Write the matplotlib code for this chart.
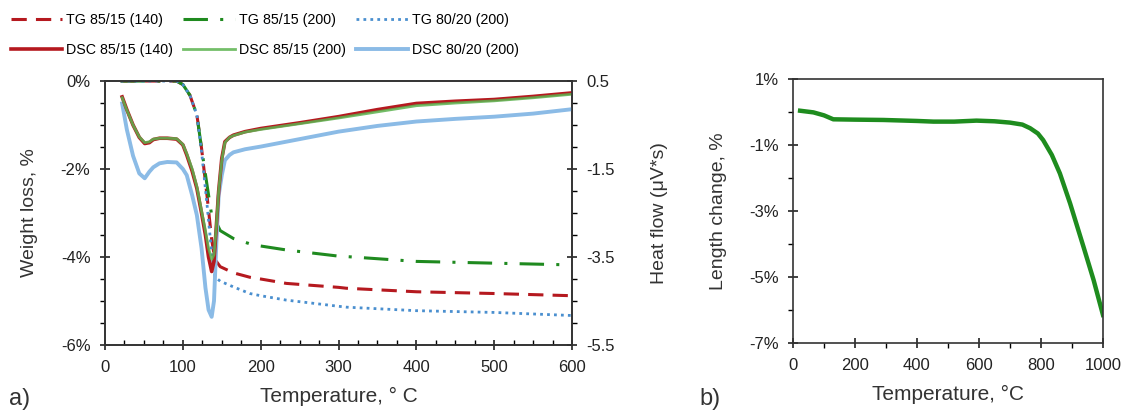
import matplotlib
matplotlib.use("Agg")
from matplotlib import pyplot as plt
from matplotlib.ticker import MultipleLocator, FuncFormatter
import numpy as np

plt.rcParams['font.family'] = ['Liberation Sans', 'DejaVu Sans']

# --- TG curves (weight loss, %) ---
tg_t = [20, 60, 92, 100, 109, 118, 124, 131, 137, 141, 148, 165, 186, 200, 233, 300, 310, 400, 500, 600]
tg_140 = [0, 0, 0, -0.08, -0.32, -0.77, -1.53, -2.6, -3.6, -4.05, -4.22, -4.36, -4.46, -4.5, -4.6, -4.69, -4.71, -4.79, -4.83, -4.88]
tg_200 = [0, 0, 0, -0.08, -0.32, -0.77, -1.53, -2.36, -3.05, -3.14, -3.4, -3.58, -3.7, -3.75, -3.84, -3.98, -3.99, -4.1, -4.14, -4.18]
tg_80 = [0, 0, 0, -0.08, -0.32, -0.77, -1.6, -2.8, -3.9, -4.45, -4.55, -4.68, -4.83, -4.88, -4.98, -5.12, -5.14, -5.22, -5.26, -5.33]

# --- DSC curves (heat flow, uV*s) ---
dsc_t = [22, 28, 36, 44, 51, 57, 62, 70, 80, 92, 100, 105, 112, 118, 124, 129, 133, 137, 140, 143, 146, 150, 154, 160, 165, 180, 200, 250, 300, 350, 400, 450, 500, 550, 600]
dsc_140 = [0.14, -0.15, -0.5, -0.78, -0.92, -0.9, -0.83, -0.8, -0.8, -0.82, -0.95, -1.18, -1.55, -1.94, -2.5, -3.0, -3.5, -3.83, -3.6, -2.8, -2.0, -1.26, -0.88, -0.78, -0.73, -0.65, -0.58, -0.45, -0.31, -0.15, -0.01, 0.04, 0.08, 0.15, 0.23]
dsc_200 = [0.12, -0.16, -0.5, -0.77, -0.9, -0.88, -0.82, -0.8, -0.8, -0.81, -0.94, -1.15, -1.5, -1.9, -2.45, -2.9, -3.3, -3.55, -3.45, -2.8, -2.0, -1.3, -0.9, -0.78, -0.74, -0.66, -0.6, -0.47, -0.34, -0.2, -0.06, 0.0, 0.05, 0.12, 0.2]
dsc_80 = [-0.01, -0.6, -1.2, -1.6, -1.71, -1.56, -1.46, -1.37, -1.34, -1.35, -1.5, -1.64, -2.1, -2.55, -3.3, -4.2, -4.7, -4.86, -4.5, -3.2, -2.1, -1.64, -1.3, -1.18, -1.12, -1.05, -0.99, -0.82, -0.65, -0.52, -0.42, -0.36, -0.31, -0.24, -0.14]

# --- dilatometry (length change, %) ---
len_t = [23, 66, 100, 130, 200, 292, 400, 453, 520, 592, 650, 700, 740, 765, 790, 807, 835, 861, 894, 937, 970, 1000]
len_pct = [0.04, -0.01, -0.1, -0.22, -0.23, -0.24, -0.27, -0.29, -0.29, -0.26, -0.28, -0.32, -0.38, -0.49, -0.65, -0.85, -1.3, -1.86, -2.77, -4.08, -5.1, -6.15]

red = '#b5191f'
green_tg = '#1f8a1f'
green_dsc = '#5cb34f'
blue_tg = '#4a8fcf'
blue_dsc = '#8bbbe6'
txt = '#333333'

fig = plt.figure(figsize=(11.33, 4.15), dpi=100)
ax = fig.add_axes([0.0927, 0.1687, 0.4122, 0.636])
ax2 = ax.twinx()

l1, = ax.plot(tg_t, tg_140, color=red, lw=2.2, ls=(0, (5, 3)), label='TG 85/15 (140)')
l3, = ax.plot(tg_t, tg_200, color=green_tg, lw=2.2, ls=(0, (8, 4, 1, 4)), label='TG 85/15 (200)')
l5, = ax.plot(tg_t, tg_80, color=blue_tg, lw=2.0, ls=(0, (1, 1.5)), label='TG 80/20 (200)')
l6, = ax2.plot(dsc_t, dsc_80, color=blue_dsc, lw=2.8, label='DSC 80/20 (200)')
l2, = ax2.plot(dsc_t, dsc_140, color=red, lw=2.6, label='DSC 85/15 (140)')
l4, = ax2.plot(dsc_t, dsc_200, color=green_dsc, lw=2.0, alpha=0.85, label='DSC 85/15 (200)')

ax.set_xlim(0, 600)
ax.set_ylim(-6, 0)
ax2.set_ylim(-5.5, 0.5)
ax.xaxis.set_major_locator(MultipleLocator(100))
ax.xaxis.set_minor_locator(MultipleLocator(25))
ax.yaxis.set_major_locator(MultipleLocator(2))
ax.yaxis.set_minor_locator(MultipleLocator(0.5))
ax.yaxis.set_major_formatter(FuncFormatter(lambda v, p: '%d%%' % round(v)))
ax2.set_yticks([0.5, -1.5, -3.5, -5.5])
ax2.yaxis.set_minor_locator(MultipleLocator(0.5))
ax2.yaxis.set_major_formatter(FuncFormatter(lambda v, p: '%.1f' % v))
for a in (ax, ax2):
    a.tick_params(which='major', direction='inout', length=7, width=1.2, labelsize=12, colors='#222222', pad=7)
    a.tick_params(which='minor', direction='out', length=3.5, width=1.0)
    for s in a.spines.values():
        s.set_linewidth(1.2)
        s.set_color(txt)
ax.tick_params(axis='x', which='minor', direction='in')
ax.set_ylabel('Weight loss, %', fontsize=14, color=txt, labelpad=16)
ax2.set_ylabel('Heat flow (μV*s)', fontsize=14, color=txt, labelpad=26)
ax.set_xlabel('Temperature, ° C', fontsize=15, color=txt, labelpad=9)

fig.legend(handles=[l1, l2, l3, l4, l5, l6], loc='upper left', bbox_to_anchor=(-0.002, 1.0),
           ncol=3, frameon=False, fontsize=10.3, handlelength=3.6, handletextpad=0.3,
           columnspacing=0.7, labelspacing=1.15)

# --- panel b ---
bx = fig.add_axes([0.6999, 0.1735, 0.2736, 0.636])
bx.plot(len_t, len_pct, color='#1e8c1e', lw=3.2)
bx.set_xlim(0, 1000)
bx.set_ylim(-7, 1)
bx.xaxis.set_major_locator(MultipleLocator(200))
bx.xaxis.set_minor_locator(MultipleLocator(100))
bx.set_yticks([1, -1, -3, -5, -7])
bx.yaxis.set_minor_locator(MultipleLocator(1))
bx.yaxis.set_major_formatter(FuncFormatter(lambda v, p: '%d%%' % round(v)))
bx.tick_params(which='major', direction='inout', length=7, width=1.2, labelsize=12, colors='#222222', pad=7)
bx.tick_params(which='minor', direction='out', length=3.5, width=1.0)
for s in bx.spines.values():
    s.set_linewidth(1.2)
    s.set_color(txt)
bx.set_ylabel('Length change, %', fontsize=14, color=txt, labelpad=16)
bx.set_xlabel('Temperature, °C', fontsize=15, color=txt, labelpad=9)

fig.text(0.008, 0.025, 'a)', fontsize=17, color=txt)
fig.text(0.617, 0.025, 'b)', fontsize=17, color=txt)

fig.savefig('out.png', dpi=100, facecolor='white')
